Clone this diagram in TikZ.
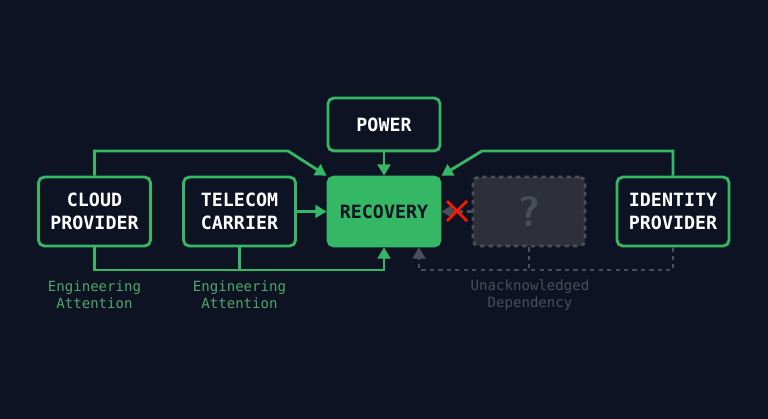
\documentclass[tikz,border=0pt]{standalone}
\usepackage{fontspec}
\setmonofont{DejaVu Sans Mono}
\usepackage{tikz}
\usetikzlibrary{arrows.meta,positioning,calc}
\definecolor{bg}{HTML}{0D1322}
\definecolor{grn}{HTML}{34B866}
\definecolor{lgrn}{HTML}{4FA56A}
\definecolor{gry}{HTML}{4A4E58}
\definecolor{qfill}{HTML}{2D3039}
\begin{document}
\begin{tikzpicture}[x=0.025cm,y=-0.025cm,
  box/.style={draw=grn,line width=2pt,rounded corners=4pt,minimum width=2.8cm,minimum height=1.72cm,align=center,text=white,font=\ttfamily\bfseries\fontsize{13}{16.5}\selectfont},
  hub/.style={box,fill=grn,text=bg},
  ghost/.style={draw=gry,dashed,line width=2pt,rounded corners=4pt,fill=qfill,minimum width=2.8cm,minimum height=1.72cm,text=gry,font=\sffamily\bfseries\fontsize{30}{34}\selectfont},
  edge/.style={draw=grn,line width=2pt,-{Triangle[length=8pt,width=9pt]}},
  link/.style={draw=grn,line width=2pt},
  hidden/.style={draw=gry,line width=2pt,dashed},
  note/.style={align=center,font=\ttfamily\normalsize}]
\fill[bg] (0,0) rectangle (768,419);
\node (cloud)[box] at (94.5,211.5) {CLOUD\\PROVIDER};
\node (telecom)[box] at (239.5,211.5) {TELECOM\\CARRIER};
\node (recovery)[hub] at (384,211.5) {RECOVERY};
\node (power)[box,minimum height=1.32cm] at (384,124.5) {POWER};
\node (unknown)[ghost] at (529,211.5) {?};
\node (identity)[box] at (673,211.5) {IDENTITY\\PROVIDER};
\coordinate (cl) at (94,270);
\coordinate (ir) at (673,270);
\coordinate (hl) at (419,270);
\node (att1)[note,text=lgrn] at (94.5,295) {Engineering\\Attention};
\node (att2)[note,text=lgrn] at (239.5,295) {Engineering\\Attention};
\node (dep)[note,text=gry] at (530,295) {Unacknowledged\\Dependency};

\draw [edge] (cloud.north) |- (288,151) -- (recovery.north west);
\draw [edge] (identity.north) |- (482,151) -- (recovery.north east);
\draw [edge] (power) to (recovery);
\draw [edge] (telecom) to (recovery);
\draw [edge] (cloud.south) |- (cl -| recovery) -- (recovery.south);
\draw [link] (telecom.south) -- (telecom.south |- cl);
\draw [hidden,-{Triangle[length=8pt,width=9pt]}] (unknown.west) -- (recovery.east);
\draw [hidden] (unknown.south) -- (unknown.south |- ir);
\draw [hidden,-{Triangle[length=8pt,width=9pt]}] (identity.south) -- (ir) -- (hl) -- (hl |- recovery.south);
\draw [red!80!orange,line width=2pt] (447,201) -- (467,221) (447,221) -- (467,201);
\end{tikzpicture}
\end{document}
